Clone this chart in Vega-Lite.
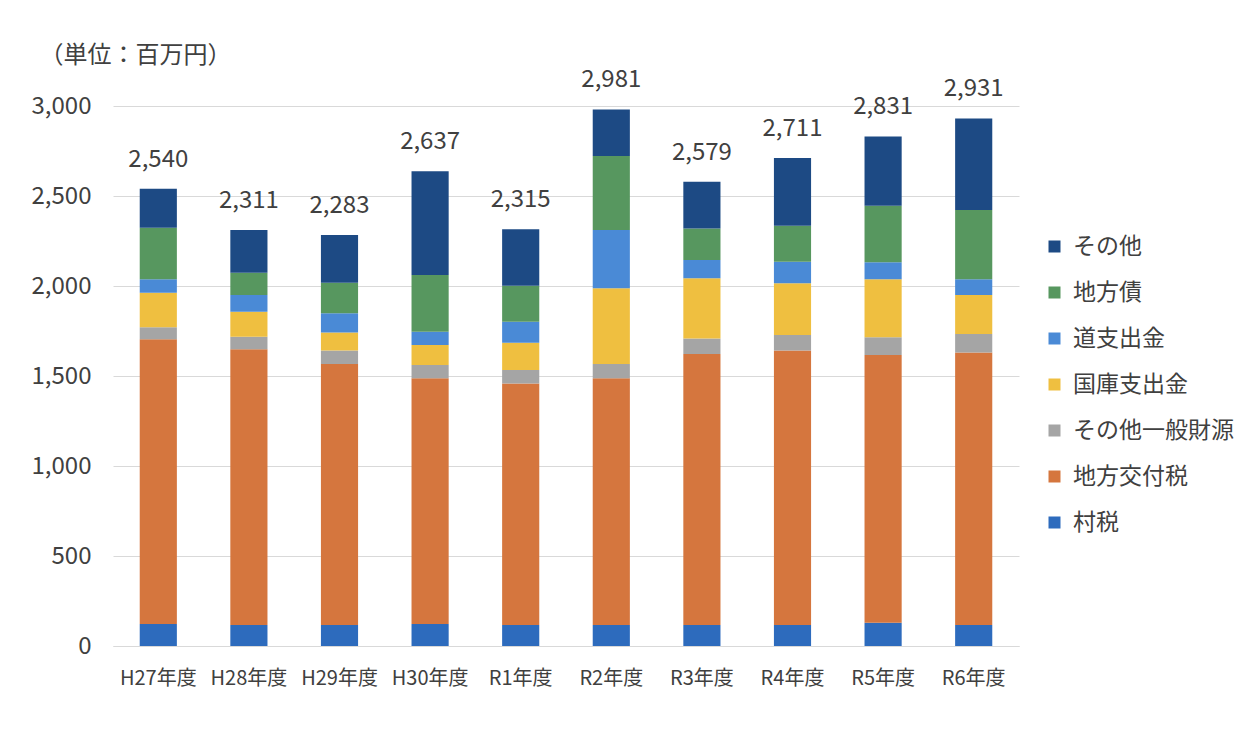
{
  "$schema": "https://vega.github.io/schema/vega-lite/v6.json",
  "width": 906,
  "height": 540,
  "autosize": "none",
  "padding": {"left": 113, "top": 106, "right": 218, "bottom": 101},
  "background": "white",
  "datasets": {
    "items": [
      {"item": "村税", "rank": 1},
      {"item": "地方交付税", "rank": 2},
      {"item": "その他一般財源", "rank": 3},
      {"item": "国庫支出金", "rank": 4},
      {"item": "道支出金", "rank": 5},
      {"item": "地方債", "rank": 6},
      {"item": "その他", "rank": 7}
    ]
  },
  "data": {
    "values": [
      {"year": "H27年度", "item": "村税", "value": 122},
      {"year": "H27年度", "item": "地方交付税", "value": 1582},
      {"year": "H27年度", "item": "その他一般財源", "value": 67},
      {"year": "H27年度", "item": "国庫支出金", "value": 192},
      {"year": "H27年度", "item": "道支出金", "value": 74},
      {"year": "H27年度", "item": "地方債", "value": 287},
      {"year": "H27年度", "item": "その他", "value": 216},
      {"year": "H28年度", "item": "村税", "value": 117},
      {"year": "H28年度", "item": "地方交付税", "value": 1531},
      {"year": "H28年度", "item": "その他一般財源", "value": 70},
      {"year": "H28年度", "item": "国庫支出金", "value": 139},
      {"year": "H28年度", "item": "道支出金", "value": 93},
      {"year": "H28年度", "item": "地方債", "value": 124},
      {"year": "H28年度", "item": "その他", "value": 237},
      {"year": "H29年度", "item": "村税", "value": 117},
      {"year": "H29年度", "item": "地方交付税", "value": 1450},
      {"year": "H29年度", "item": "その他一般財源", "value": 74},
      {"year": "H29年度", "item": "国庫支出金", "value": 100},
      {"year": "H29年度", "item": "道支出金", "value": 107},
      {"year": "H29年度", "item": "地方債", "value": 170},
      {"year": "H29年度", "item": "その他", "value": 265},
      {"year": "H30年度", "item": "村税", "value": 122},
      {"year": "H30年度", "item": "地方交付税", "value": 1365},
      {"year": "H30年度", "item": "その他一般財源", "value": 74},
      {"year": "H30年度", "item": "国庫支出金", "value": 111},
      {"year": "H30年度", "item": "道支出金", "value": 74},
      {"year": "H30年度", "item": "地方債", "value": 315},
      {"year": "H30年度", "item": "その他", "value": 576},
      {"year": "R1年度", "item": "村税", "value": 117},
      {"year": "R1年度", "item": "地方交付税", "value": 1342},
      {"year": "R1年度", "item": "その他一般財源", "value": 74},
      {"year": "R1年度", "item": "国庫支出金", "value": 152},
      {"year": "R1年度", "item": "道支出金", "value": 117},
      {"year": "R1年度", "item": "地方債", "value": 200},
      {"year": "R1年度", "item": "その他", "value": 313},
      {"year": "R2年度", "item": "村税", "value": 117},
      {"year": "R2年度", "item": "地方交付税", "value": 1370},
      {"year": "R2年度", "item": "その他一般財源", "value": 80},
      {"year": "R2年度", "item": "国庫支出金", "value": 420},
      {"year": "R2年度", "item": "道支出金", "value": 324},
      {"year": "R2年度", "item": "地方債", "value": 411},
      {"year": "R2年度", "item": "その他", "value": 259},
      {"year": "R3年度", "item": "村税", "value": 117},
      {"year": "R3年度", "item": "地方交付税", "value": 1505},
      {"year": "R3年度", "item": "その他一般財源", "value": 87},
      {"year": "R3年度", "item": "国庫支出金", "value": 334},
      {"year": "R3年度", "item": "道支出金", "value": 101},
      {"year": "R3年度", "item": "地方債", "value": 176},
      {"year": "R3年度", "item": "その他", "value": 259},
      {"year": "R4年度", "item": "村税", "value": 117},
      {"year": "R4年度", "item": "地方交付税", "value": 1524},
      {"year": "R4年度", "item": "その他一般財源", "value": 87},
      {"year": "R4年度", "item": "国庫支出金", "value": 287},
      {"year": "R4年度", "item": "道支出金", "value": 120},
      {"year": "R4年度", "item": "地方債", "value": 200},
      {"year": "R4年度", "item": "その他", "value": 376},
      {"year": "R5年度", "item": "村税", "value": 129},
      {"year": "R5年度", "item": "地方交付税", "value": 1488},
      {"year": "R5年度", "item": "その他一般財源", "value": 98},
      {"year": "R5年度", "item": "国庫支出金", "value": 322},
      {"year": "R5年度", "item": "道支出金", "value": 95},
      {"year": "R5年度", "item": "地方債", "value": 314},
      {"year": "R5年度", "item": "その他", "value": 385},
      {"year": "R6年度", "item": "村税", "value": 117},
      {"year": "R6年度", "item": "地方交付税", "value": 1513},
      {"year": "R6年度", "item": "その他一般財源", "value": 103},
      {"year": "R6年度", "item": "国庫支出金", "value": 217},
      {"year": "R6年度", "item": "道支出金", "value": 87},
      {"year": "R6年度", "item": "地方債", "value": 385},
      {"year": "R6年度", "item": "その他", "value": 509}
    ]
  },
  "encoding": {
    "x": {
      "field": "year",
      "type": "nominal",
      "sort": null,
      "scale": {"paddingInner": 0.59, "paddingOuter": 0.295},
      "axis": {
        "title": null,
        "labelAngle": 0,
        "labelFontSize": 20,
        "labelColor": "#404040",
        "labelFont": "Noto Sans CJK JP",
        "labelPadding": 22,
        "ticks": false,
        "domainColor": "#d9d9d9",
        "domainWidth": 1
      }
    }
  },
  "layer": [
    {
      "transform": [
        {"lookup": "item", "from": {"data": {"name": "items"}, "key": "item", "fields": ["rank"]}}
      ],
      "mark": {"type": "bar"},
      "encoding": {
        "y": {
          "field": "value",
          "type": "quantitative",
          "stack": "zero",
          "scale": {"domain": [0, 3000], "nice": false},
          "axis": {
            "title": "（単位：百万円）",
            "titleAngle": 0,
            "titleAlign": "left",
            "titleBaseline": "middle",
            "titleX": -74,
            "titleY": -51,
            "titleFontSize": 24,
            "titleFontWeight": "normal",
            "titleColor": "#404040",
            "titleFont": "Noto Sans CJK JP",
            "values": [0, 500, 1000, 1500, 2000, 2500, 3000],
            "format": ",d",
            "labelFontSize": 24,
            "labelColor": "#404040",
            "labelFont": "Noto Sans CJK JP",
            "labelPadding": 22,
            "ticks": false,
            "domain": false,
            "grid": true,
            "gridColor": "#d9d9d9",
            "gridWidth": 1
          }
        },
        "order": {"field": "rank", "type": "quantitative", "sort": "ascending"},
        "color": {
          "field": "item",
          "type": "nominal",
          "sort": ["その他", "地方債", "道支出金", "国庫支出金", "その他一般財源", "地方交付税", "村税"],
          "scale": {
            "domain": ["その他", "地方債", "道支出金", "国庫支出金", "その他一般財源", "地方交付税", "村税"],
            "range": ["#1d4a84", "#57975f", "#4a8ad6", "#efbf40", "#a5a5a5", "#d5763e", "#2d6bbd"]
          },
          "legend": {
            "title": null,
            "orient": "none",
            "legendX": 930,
            "legendY": 129,
            "padding": 0,
            "symbolType": "square",
            "symbolSize": 144,
            "symbolStrokeWidth": 0,
            "labelFontSize": 23,
            "labelFont": "Noto Sans CJK JP",
            "labelColor": "#404040",
            "labelOffset": 7,
            "labelLimit": 400,
            "rowPadding": 22
          }
        }
      }
    },
    {
      "mark": {
        "type": "text",
        "fontSize": 24,
        "font": "Noto Sans CJK JP",
        "color": "#404040",
        "baseline": "alphabetic",
        "dy": -22
      },
      "encoding": {
        "y": {"field": "value", "type": "quantitative", "aggregate": "sum"},
        "text": {"field": "value", "type": "quantitative", "aggregate": "sum", "format": ","}
      }
    }
  ],
  "config": {
    "view": {"stroke": null}
  }
}
